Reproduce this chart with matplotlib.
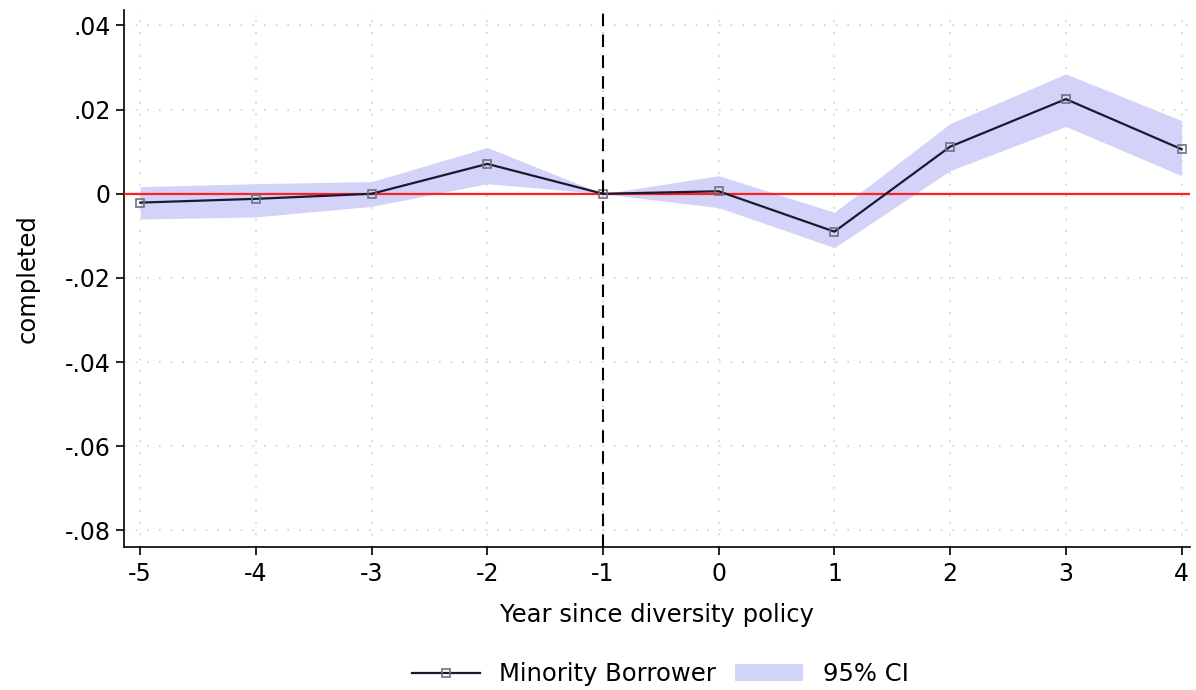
import matplotlib
matplotlib.use("Agg")
import matplotlib.pyplot as plt

years = [-5, -4, -3, -2, -1, 0, 1, 2, 3, 4]
coef = [-0.0021, -0.0012, 0.0000, 0.0071, 0.0, 0.0006, -0.0090, 0.0112, 0.0225, 0.0106]
ci_low = [-0.0060, -0.0055, -0.0030, 0.0024, 0.0, -0.0033, -0.0128, 0.0055, 0.0160, 0.0043]
ci_high = [0.0017, 0.0024, 0.0029, 0.0110, 0.0, 0.0043, -0.0044, 0.0167, 0.0285, 0.0174]
yticks = [0.04, 0.02, 0.0, -0.02, -0.04, -0.06, -0.08]
ytick_labels = [".04", ".02", "0", "-.02", "-.04", "-.06", "-.08"]

plt.rcParams['font.family'] = ['DejaVu Sans']
fig = plt.figure(figsize=(11.96, 6.9), dpi=100)
ax = fig.add_axes([0.1037, 0.207, 0.891, 0.778])

ax.fill_between(years, ci_low, ci_high, color='#d3d3f9', lw=0, label='95% CI', zorder=2)
ax.plot(years, coef, color='#1a1a2e', lw=1.6, marker='s', markersize=6,
        markerfacecolor='none', markeredgecolor='#707080', markeredgewidth=1.2,
        label='Minority Borrower', zorder=4)
ax.axhline(0, color='#ff2020', lw=1.6, zorder=3)
ax.axvline(-1, color='black', lw=1.5, ls=(0, (6, 4)), zorder=5)

ax.set_xlim(-5.14, 4.07)
ax.set_ylim(-0.084, 0.0436)
ax.set_xticks(years)
ax.set_xticklabels([str(y) for y in years])
ax.set_yticks(yticks)
ax.set_yticklabels(ytick_labels)
ax.tick_params(axis='both', labelsize=17, length=6, width=1.2)
ax.tick_params(axis='x', pad=5)
ax.grid(True, color='#d0d0d0', ls=(0, (1, 6)), lw=1.2)
for s in ['top', 'right']:
    ax.spines[s].set_visible(False)
for s in ['left', 'bottom']:
    ax.spines[s].set_linewidth(1.2)

ax.set_xlabel('Year since diversity policy', fontsize=17.5, labelpad=12)
ax.set_ylabel('completed', fontsize=17.5, labelpad=18)

handles, labels = ax.get_legend_handles_labels()
order = [1, 0]
fig.legend([handles[i] for i in order], [labels[i] for i in order],
           loc='lower center', bbox_to_anchor=(0.552, -0.026), ncol=2, frameon=False,
           fontsize=17.5, handlelength=2.8, columnspacing=0.8)

fig.savefig('out.png', dpi=100, facecolor='white')
